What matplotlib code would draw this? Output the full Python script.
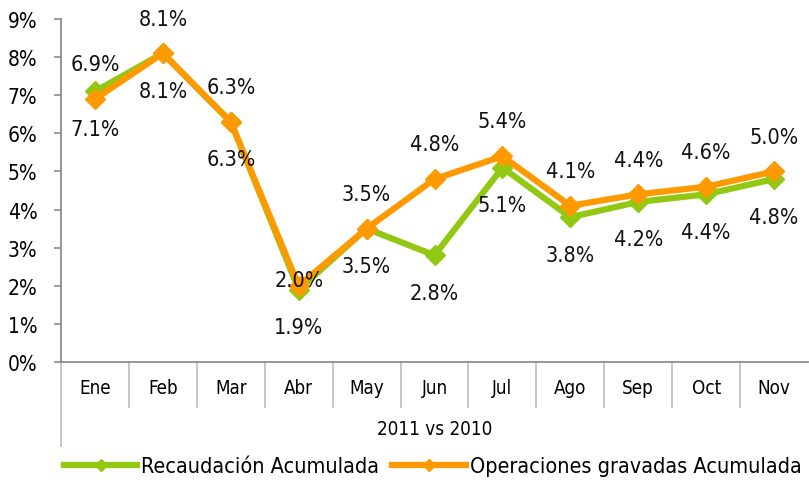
import numpy as np
import matplotlib.pyplot as plt
from matplotlib.lines import Line2D

plt.rcParams['font.family'] = ['DejaVu Sans']
plt.rcParams['font.stretch'] = 'condensed'

meses = ['Ene', 'Feb', 'Mar', 'Abr', 'May', 'Jun', 'Jul', 'Ago', 'Sep', 'Oct', 'Nov']
recaudacion = [7.1, 8.1, 6.3, 1.9, 3.5, 2.8, 5.1, 3.8, 4.2, 4.4, 4.8]
operaciones = [6.9, 8.1, 6.3, 2.0, 3.5, 4.8, 5.4, 4.1, 4.4, 4.6, 5.0]
grupo = '2011 vs 2010'

verde = '#92c812'
naranja = '#ff9900'
gris = '#8c8c8c'

# label offsets in points (orange above, green below)
off_nar = [25, 25, 25, 4, 25, 25, 25, 25, 25, 25, 25]
off_ver = [-27] * len(meses)

fig = plt.figure(figsize=(8.09, 4.81), dpi=100)
ax = fig.add_axes([0.0754, 0.2453, 0.9234, 0.7131])

x = np.arange(len(meses)) + 0.5
ax.plot(x, recaudacion, color=verde, lw=4.5, marker='D', ms=10,
        solid_joinstyle='miter', zorder=3)
ax.plot(x, operaciones, color=naranja, lw=4.5, marker='D', ms=10,
        solid_joinstyle='miter', zorder=4)

for xi, v, o in zip(x, operaciones, off_nar):
    ax.annotate(f'{v:.1f}%', (xi, v), xytext=(0, o), textcoords='offset points',
                ha='center', va='center', fontsize=15.5, color='#111111', zorder=6)
for xi, v, o in zip(x, recaudacion, off_ver):
    ax.annotate(f'{v:.1f}%', (xi, v), xytext=(0, o), textcoords='offset points',
                ha='center', va='center', fontsize=15.5, color='#111111', zorder=6)

ax.set_xlim(0, len(meses))
ax.set_ylim(0, 9)
ax.set_yticks(range(10))
ax.set_yticklabels([f'{i}%' for i in range(10)], fontsize=15)
ax.tick_params(axis='y', length=5, color=gris, width=1.2, pad=12)
ax.set_xticks([])

for s in ['top', 'right']:
    ax.spines[s].set_visible(False)
for s in ['left', 'bottom']:
    ax.spines[s].set_color(gris)
    ax.spines[s].set_linewidth(1.3)

# two-level category axis
tr = ax.get_xaxis_transform()
for i in range(1, len(meses)):
    ax.plot([i, i], [0, -0.13], transform=tr, color='#bdbdbd', lw=1.2, clip_on=False)
ax.plot([0, 0], [0, -0.245], transform=tr, color='#bdbdbd', lw=1.2, clip_on=False)
for xi, m in zip(x, meses):
    ax.text(xi, -0.075, m, transform=tr, ha='center', va='center', fontsize=13.5)
ax.text(len(meses) / 2, -0.195, grupo, transform=tr, ha='center', va='center', fontsize=13.5)

handles = [Line2D([], [], color=verde, lw=4.5, marker='D', ms=6),
           Line2D([], [], color=naranja, lw=4.5, marker='D', ms=6)]
fig.legend(handles, ['Recaudación Acumulada', 'Operaciones gravadas Acumulada'],
           loc='center', bbox_to_anchor=(0.535, 0.029), ncol=2, frameon=False,
           fontsize=15.5, handlelength=3.4, handletextpad=0.2, columnspacing=0.6,
           borderaxespad=0)

fig.savefig('out.png', dpi=100)
